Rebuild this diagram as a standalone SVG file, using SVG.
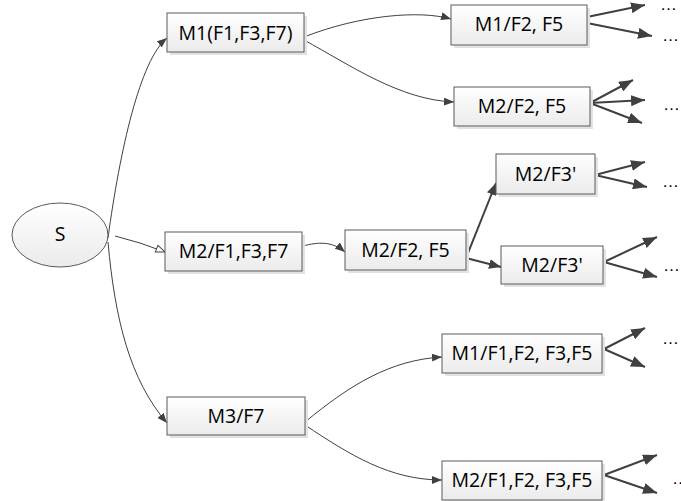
<svg xmlns="http://www.w3.org/2000/svg" width="681" height="501" viewBox="0 0 681 501">
<style>
.box{fill:url(#g);stroke:#5a5a5a;stroke-width:1}
.sh{fill:#e2e2e2}
.t{font-family:"Open Sans","Liberation Sans",sans-serif;font-size:19.5px;fill:#000;text-anchor:middle}
.d{font-family:"Liberation Sans",sans-serif;font-size:17px;fill:#000}
.c{fill:none;stroke:#404040;stroke-width:1}
.k{fill:none;stroke:#404040;stroke-width:2}
</style>
<defs>
<linearGradient id="g" x1="0" y1="0" x2="0" y2="1">
<stop offset="0" stop-color="#ffffff"/>
<stop offset="1" stop-color="#ebebeb"/>
</linearGradient>
<marker id="a" viewBox="0 0 10 8" refX="10" refY="4" markerWidth="10" markerHeight="8" orient="auto" markerUnits="userSpaceOnUse"><path d="M0,0 L10,4 L0,8 z" fill="#404040"/></marker>
<marker id="h" viewBox="0 0 11 9" refX="10" refY="4.5" markerWidth="11" markerHeight="9" orient="auto" markerUnits="userSpaceOnUse"><path d="M1,1 L10,4.5 L1,8 z" fill="#fff" stroke="#404040" stroke-width="1"/></marker>
<marker id="b" viewBox="0 0 14 11" refX="14" refY="5.5" markerWidth="14" markerHeight="11" orient="auto" markerUnits="userSpaceOnUse"><path d="M0,0 L14,5.5 L0,11 z" fill="#404040"/></marker>
<marker id="m" viewBox="0 0 12 10" refX="12" refY="5" markerWidth="12" markerHeight="10" orient="auto" markerUnits="userSpaceOnUse"><path d="M0,0 L12,5 L0,10 z" fill="#404040"/></marker>
</defs>

<g id="connectors">
<path class="c" d="M108,238 C120,150 140,60 167,38" marker-end="url(#a)"/>
<path class="c" d="M108,242 C115,320 130,380 167,423" marker-end="url(#a)"/>
<path class="c" d="M115,236 Q140,242 165,252" marker-end="url(#h)"/>
<path class="c" d="M303,246 C318,242 332,241 345,252" marker-end="url(#a)"/>
<path class="c" d="M304,37 C360,15 420,10 451,19" marker-end="url(#a)"/>
<path class="c" d="M304,40 C350,65 400,100 454,102" marker-end="url(#a)"/>
<path class="c" d="M305,422 C350,385 390,360 442,357" marker-end="url(#a)"/>
<path class="c" d="M305,425 C350,455 390,480 442,480" marker-end="url(#a)"/>
<path class="k" d="M466,258 L496,183" marker-end="url(#m)"/>
<path class="k" d="M466,258 L501,267" marker-end="url(#m)"/>
<path class="k" d="M587,17 L645,5" marker-end="url(#b)"/>
<path class="k" d="M587,23 L652,36" marker-end="url(#b)"/>
<path class="k" d="M590,103 L633,80" marker-end="url(#b)"/>
<path class="k" d="M590,103 L645,100" marker-end="url(#b)"/>
<path class="k" d="M590,103 L642,123" marker-end="url(#b)"/>
<path class="k" d="M595,175 L645,162" marker-end="url(#b)"/>
<path class="k" d="M595,175 L647,187" marker-end="url(#b)"/>
<path class="k" d="M604,262 L657,237" marker-end="url(#b)"/>
<path class="k" d="M604,262 L657,277" marker-end="url(#b)"/>
<path class="k" d="M604,349 L645,328" marker-end="url(#b)"/>
<path class="k" d="M604,349 L645,367" marker-end="url(#b)"/>
<path class="k" d="M604,475 L657,455" marker-end="url(#b)"/>
<path class="k" d="M604,475 L657,493" marker-end="url(#b)"/>
</g>

<g id="S"><ellipse cx="60" cy="235" rx="48" ry="32" class="box"/><text x="60" y="241" class="t">S</text></g>
<g id="n1"><rect x="170" y="16" width="137" height="39" class="sh"/><rect x="167" y="13" width="137" height="39" class="box"/><text x="235.5" y="40" class="t">M1(F1,F3,F7)</text></g>
<g id="n2"><rect x="168" y="235" width="137" height="39" class="sh"/><rect x="165" y="232" width="137" height="39" class="box"/><text x="233.5" y="258" class="t">M2/F1,F3,F7</text></g>
<g id="n3"><rect x="170" y="400" width="138" height="38" class="sh"/><rect x="167" y="397" width="138" height="38" class="box"/><text x="236" y="423" class="t">M3/F7</text></g>
<g id="n4"><rect x="454" y="8" width="136" height="40" class="sh"/><rect x="451" y="5" width="136" height="40" class="box"/><text x="519" y="31" class="t">M1/F2, F5</text></g>
<g id="n5"><rect x="457" y="90" width="136" height="39" class="sh"/><rect x="454" y="87" width="136" height="39" class="box"/><text x="522" y="113" class="t">M2/F2, F5</text></g>
<g id="n6"><rect x="348" y="233" width="121" height="40" class="sh"/><rect x="345" y="230" width="121" height="40" class="box"/><text x="405.5" y="257" class="t">M2/F2, F5</text></g>
<g id="n7"><rect x="499" y="157" width="99" height="40" class="sh"/><rect x="496" y="154" width="99" height="40" class="box"/><text x="545.5" y="181" class="t">M2/F3'</text></g>
<g id="n8"><rect x="504" y="249" width="102" height="38" class="sh"/><rect x="501" y="246" width="102" height="38" class="box"/><text x="552" y="272" class="t">M2/F3'</text></g>
<g id="n9"><rect x="445" y="337" width="160" height="39" class="sh"/><rect x="442" y="334" width="160" height="39" class="box"/><text x="522" y="360" class="t">M1/F1,F2, F3,F5</text></g>
<g id="n10"><rect x="445" y="464" width="160" height="39" class="sh"/><rect x="442" y="461" width="160" height="39" class="box"/><text x="522" y="487" class="t">M2/F1,F2, F3,F5</text></g>

<g id="dots">
<text x="660" y="10" class="d">…</text>
<text x="662" y="41" class="d">…</text>
<text x="663" y="110" class="d">…</text>
<text x="662" y="187" class="d">…</text>
<text x="663" y="271" class="d">…</text>
<text x="662" y="344" class="d">…</text>
<text x="672" y="484" class="d">…</text>
</g>
</svg>
